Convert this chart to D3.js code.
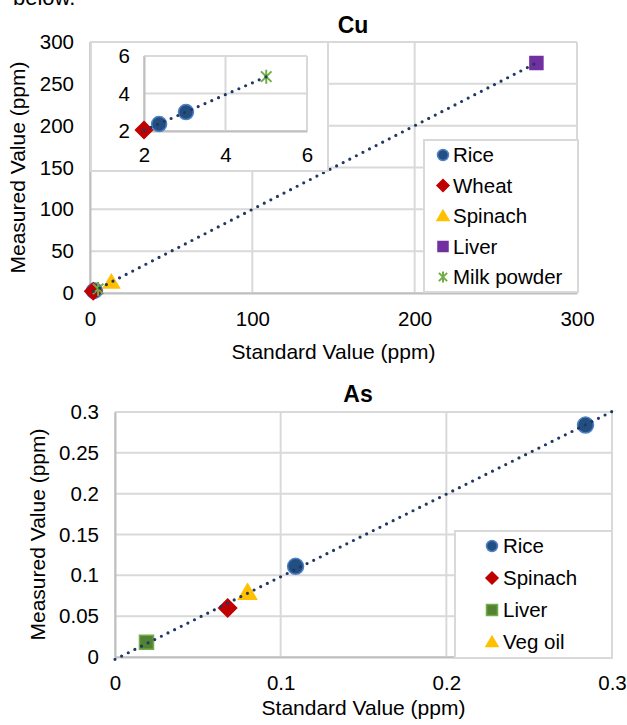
<!DOCTYPE html>
<html>
<head>
<meta charset="utf-8">
<script src="https://cdn.jsdelivr.net/npm/d3@7"></script>
<style>
  body { margin: 0; background: #fff; }
  svg text { font-family: "Liberation Sans", Arial, sans-serif; fill: #000; }
</style>
</head>
<body>
<div id="chart"></div>
<script>
// ---- data (standard value, measured value) ----
const cuRice = [[2.37, 2.37], [3.03, 3.01]];
const cuWheat = [[2.0, 2.05]];
const cuSpinach = [[13.2, 13.0]];
const cuLiver = [[275, 275]];
const cuMilk = [[5.0, 4.9]];

const asRice = [[0.109, 0.111], [0.284, 0.284]];
const asSpinach = [[0.068, 0.060]];
const asLiver = [[0.019, 0.018]];
const asVegOil = [[0.080, 0.079]];

const cuXTicks = [0, 100, 200, 300];
const cuYTicks = [0, 50, 100, 150, 200, 250, 300];
const insetTicks = [2, 4, 6];
const asXTicks = [0, 0.1, 0.2, 0.3];
const asYTicks = [0, 0.05, 0.1, 0.15, 0.2, 0.25, 0.3];

// marker styles
const styles = {
    rice:    {shape: "circle",   fill: "#234f80", stroke: "#4f81c7"},
    wheat:   {shape: "diamond",  fill: "#c00000", stroke: "#c00000"},
    spinach: {shape: "triangle", fill: "#ffc000", stroke: "#ffc000"},
    liverCu: {shape: "square",   fill: "#7030a0", stroke: "#7030a0"},
    milk:    {shape: "star",     fill: "none",    stroke: "#70ad47"},
    liverAs: {shape: "square",   fill: "#548235", stroke: "#70ad47"},
    vegOil:  {shape: "triangle", fill: "#ffc000", stroke: "#ffc000"}
};

const W = 627, H = 725;
const svg = d3.select("#chart").append("svg")
    .attr("width", W).attr("height", H);

// the sentence above the figure, mostly cut off by the page edge
svg.append("text").attr("x", 13).attr("y", 5)
    .style("font-size", "22px").text("below.");

function markerPath(shape, s) {
    // s = half width of the marker
    if (shape === "circle") return d3.symbol(d3.symbolCircle, Math.PI * s * s)();
    if (shape === "square") return `M${-s},${-s}H${s}V${s}H${-s}Z`;
    if (shape === "diamond") return `M0,${-s}L${s},0L0,${s}L${-s},0Z`;
    if (shape === "triangle") return `M0,${-s * 0.95}L${s},${s * 0.75}L${-s},${s * 0.75}Z`;
    let d = s * 0.75;
    return `M${-d},${-d}L${d},${d}M${d},${-d}L${-d},${d}M0,${-s}V${s}`;
}

function drawMarker(g, st, x, y, s) {
    g.append("path")
        .attr("transform", `translate(${x},${y})`)
        .attr("d", markerPath(st.shape, s))
        .attr("fill", st.fill)
        .attr("stroke", st.stroke)
        .attr("stroke-width", st.shape === "star" ? 2 : 1.5);
}

function fitLine(points) {
    let n = points.length;
    let mx = d3.mean(points, p => p[0]), my = d3.mean(points, p => p[1]);
    let sxy = d3.sum(points, p => (p[0] - mx) * (p[1] - my));
    let sxx = d3.sum(points, p => (p[0] - mx) * (p[0] - mx));
    let slope = sxy / sxx;
    return {slope: slope, icpt: my - slope * mx};
}

function drawPanel(cfg) {
    let g = svg.append("g");
    let x = d3.scaleLinear().domain(cfg.xDomain).range([cfg.left, cfg.right]);
    let y = d3.scaleLinear().domain(cfg.yDomain).range([cfg.bottom, cfg.top]);
    let fs = cfg.fontSize || 20.5;

    if (cfg.box) {
        g.append("rect").attr("x", cfg.box[0]).attr("y", cfg.box[1])
            .attr("width", cfg.box[2] - cfg.box[0]).attr("height", cfg.box[3] - cfg.box[1])
            .attr("fill", "#fff").attr("stroke", "#d9d9d9").attr("stroke-width", 2);
    }

    // gridlines
    g.selectAll(".gx").data(cfg.xTicks).enter().append("line")
        .attr("x1", d => x(d)).attr("x2", d => x(d))
        .attr("y1", cfg.top).attr("y2", cfg.bottom)
        .attr("stroke", "#d9d9d9").attr("stroke-width", 2);
    g.selectAll(".gy").data(cfg.yTicks).enter().append("line")
        .attr("x1", cfg.left).attr("x2", cfg.right)
        .attr("y1", d => y(d)).attr("y2", d => y(d))
        .attr("stroke", "#d9d9d9").attr("stroke-width", 2);

    // axes
    let xAxis = g.append("g").attr("transform", `translate(0,${cfg.bottom})`)
        .call(d3.axisBottom(x).tickValues(cfg.xTicks).tickSize(0).tickPadding(cfg.xPad)
            .tickFormat(d3.format("~g")));
    let yAxis = g.append("g").attr("transform", `translate(${cfg.left},0)`)
        .call(d3.axisLeft(y).tickValues(cfg.yTicks).tickSize(0).tickPadding(cfg.yPad)
            .tickFormat(d3.format("~g")));
    [xAxis, yAxis].forEach(a => {
        a.select(".domain").attr("stroke", "#bfbfbf").attr("stroke-width", 2);
        a.selectAll("text").style("font-size", fs + "px").attr("fill", "#000")
            .style("font-family", '"Liberation Sans", Arial, sans-serif');
    });

    if (cfg.title) {
        g.append("text").attr("x", cfg.titleX).attr("y", cfg.titleY)
            .attr("text-anchor", "middle").style("font-size", "23px")
            .style("font-weight", "bold").text(cfg.title);
    }
    if (cfg.xTitle) {
        g.append("text").attr("x", (cfg.left + cfg.right) / 2).attr("y", cfg.xTitleY)
            .attr("text-anchor", "middle").style("font-size", "21px").text(cfg.xTitle);
    }
    if (cfg.yTitle) {
        g.append("text")
            .attr("transform", `translate(${cfg.yTitleX},${(cfg.top + cfg.bottom) / 2}) rotate(-90)`)
            .attr("text-anchor", "middle").style("font-size", "21px").text(cfg.yTitle);
    }

    // markers
    let marks = g.append("g");
    cfg.series.forEach(sr => {
        sr.data.forEach(p => {
            if (p[0] < cfg.xDomain[0] - 0.5 || p[0] > cfg.xDomain[1]) return;
            drawMarker(marks, styles[sr.style], x(p[0]), y(p[1]), sr.size);
        });
    });

    // linear trendline over all visible points
    let pts = [];
    cfg.series.forEach(sr => sr.data.forEach(p => {
        if (p[0] >= cfg.xDomain[0] - 0.5 && p[0] <= cfg.xDomain[1]) pts.push(p);
    }));
    let fit = fitLine(pts);
    let span = cfg.trendSpan || d3.extent(pts, p => p[0]);
    g.append("line")
        .attr("x1", x(span[0])).attr("y1", y(fit.icpt + fit.slope * span[0]))
        .attr("x2", x(span[1])).attr("y2", y(fit.icpt + fit.slope * span[1]))
        .attr("stroke", "#203864").attr("stroke-width", 3.2)
        .attr("stroke-linecap", "round").attr("stroke-dasharray", "0 7.4");

    // legend
    if (cfg.legend) {
        let L = cfg.legend;
        let lg = g.append("g");
        lg.append("rect").attr("x", L.x0).attr("y", L.y0)
            .attr("width", L.x1 - L.x0).attr("height", L.y1 - L.y0)
            .attr("fill", "#fff").attr("stroke", "#d9d9d9").attr("stroke-width", 2);
        cfg.series.forEach((sr, i) => {
            let cy = L.firstRow + i * L.rowGap;
            drawMarker(lg, styles[sr.style], L.markX, cy, sr.legendSize);
            lg.append("text").attr("x", L.textX).attr("y", cy).attr("dy", "0.35em")
                .style("font-size", "20.5px").text(sr.name);
        });
    }
    return g;
}

// ---- Cu panel ----
drawPanel({
    left: 90, right: 577, top: 42, bottom: 293,
    xDomain: [0, 300], yDomain: [0, 300],
    xTicks: cuXTicks, yTicks: cuYTicks, xPad: 18, yPad: 16,
    title: "Cu", titleX: 353, titleY: 33,
    xTitle: "Standard Value (ppm)", xTitleY: 359,
    yTitle: "Measured Value (ppm)", yTitleX: 25,
    series: [
        {name: "Rice", style: "rice", data: cuRice, size: 7.5, legendSize: 5.5},
        {name: "Wheat", style: "wheat", data: cuWheat, size: 8.5, legendSize: 6},
        {name: "Spinach", style: "spinach", data: cuSpinach, size: 8, legendSize: 6},
        {name: "Liver", style: "liverCu", data: cuLiver, size: 6.5, legendSize: 5},
        {name: "Milk powder", style: "milk", data: cuMilk, size: 7, legendSize: 5.5}
    ],
    legend: {x0: 424, x1: 578, y0: 140, y1: 292, firstRow: 155, rowGap: 30.5, markX: 443, textX: 453}
});

// inset zoom of the low range
drawPanel({
    box: [91, 42, 328, 171],
    left: 144, right: 307, top: 56, bottom: 131,
    xDomain: [2, 6], yDomain: [2, 6],
    xTicks: insetTicks, yTicks: insetTicks, xPad: 16, yPad: 14,
    series: [
        {name: "Rice", style: "rice", data: cuRice, size: 7.5},
        {name: "Wheat", style: "wheat", data: cuWheat, size: 8.5},
        {name: "Spinach", style: "spinach", data: cuSpinach, size: 8},
        {name: "Liver", style: "liverCu", data: cuLiver, size: 6.5},
        {name: "Milk powder", style: "milk", data: cuMilk, size: 7}
    ]
}).select("rect").lower();

// ---- As panel ----
drawPanel({
    left: 115, right: 612, top: 412, bottom: 657,
    xDomain: [0, 0.3], yDomain: [0, 0.3],
    xTicks: asXTicks, yTicks: asYTicks, xPad: 18, yPad: 16,
    title: "As", titleX: 358, titleY: 402,
    xTitle: "Standard Value (ppm)", xTitleY: 715,
    yTitle: "Measured Value (ppm)", yTitleX: 45,
    trendSpan: [0, 0.3],
    series: [
        {name: "Rice", style: "rice", data: asRice, size: 8, legendSize: 5.5},
        {name: "Spinach", style: "wheat", data: asSpinach, size: 9, legendSize: 6},
        {name: "Liver", style: "liverAs", data: asLiver, size: 7, legendSize: 5.5},
        {name: "Veg oil", style: "vegOil", data: asVegOil, size: 9, legendSize: 6}
    ],
    legend: {x0: 455, x1: 612, y0: 531, y1: 658, firstRow: 546, rowGap: 32, markX: 492, textX: 503}
});
</script>
</body>
</html>
